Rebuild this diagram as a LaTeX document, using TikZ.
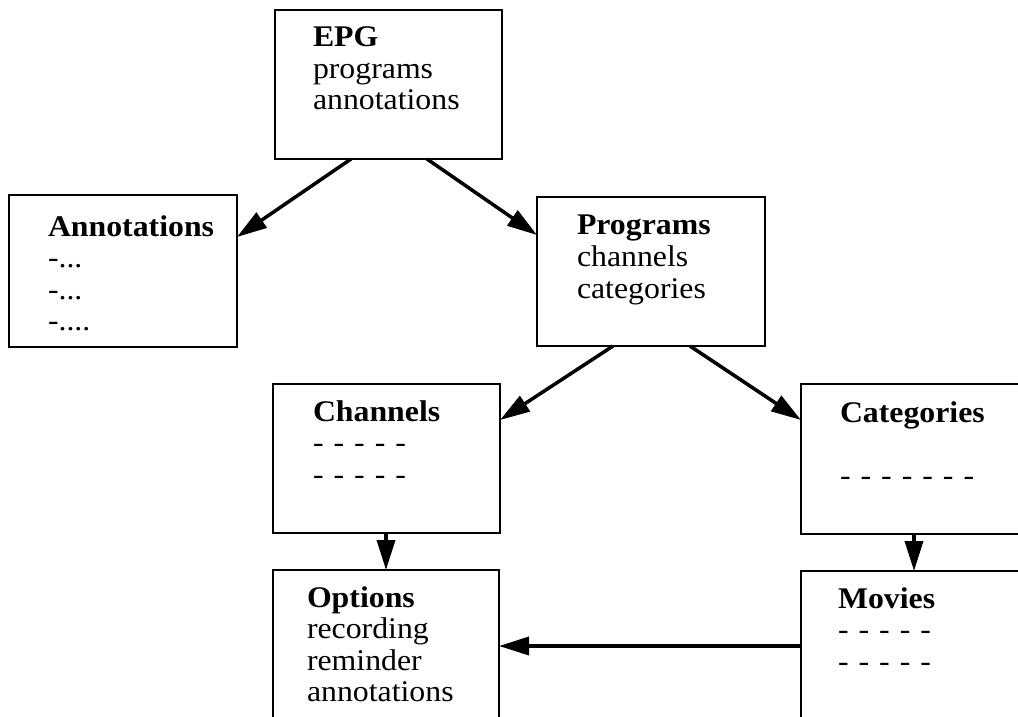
\documentclass[tikz,border=0pt]{standalone}
\usepackage{fontspec}
\setmainfont{Liberation Serif}[FakeStretch=1.06]
\usetikzlibrary{arrows.meta,calc}
\begin{document}
\begin{tikzpicture}[x=1pt,y=-1pt,
  box/.style={draw, line width=2.7pt, inner sep=0pt, outer sep=0pt, anchor=north west},
  txt/.style={anchor=base west, inner sep=0pt, outer sep=0pt, text width=240pt, align=left,
              font=\fontsize{30}{31.5}\selectfont},
  arr/.style={line width=3.5pt, -{Triangle[length=30pt,width=18pt]}}]
\fill[white] (0,0) rectangle (1018,717);
\useasboundingbox (0,0) rectangle (1018,717);
\clip (0,0) rectangle (1018,717);

% boxes
\node[box, minimum width=227pt, minimum height=149pt] (epg)  at (275,10)  {};
\node[box, minimum width=228pt, minimum height=152pt] (anno) at (9,195)   {};
\node[box, minimum width=228pt, minimum height=149pt] (prog) at (537,197) {};
\node[box, minimum width=227pt, minimum height=149pt] (chan) at (273,384) {};
\node[box, minimum width=240pt, minimum height=150pt] (cat)  at (801,384) {};
\node[box, minimum width=226pt, minimum height=180pt] (opt)  at (273,570) {};
\node[box, minimum width=240pt, minimum height=180pt] (mov)  at (801,571) {};

% texts
\node[txt] (epgt)  at (313,47)  {\textbf{EPG}\\programs\\annotations};
\node[txt] (annot) at (48,236)  {\textbf{Annotations}\\-...\\-...\\-....};
\node[txt] (progt) at (577,234) {\textbf{Programs}\\[0.5pt]channels\\[0.5pt]categories};
\node[txt] (chant) at (313,421) {\textbf{Channels}\\- - - - -\\- - - - -};
\node[txt] (catt)  at (840,422) {\textbf{Categories}\\[31.5pt]- - - - - - -};
\node[txt] (optt)  at (307,607) {\textbf{Options}\\recording\\reminder\\annotations};
\node[txt] (movt)  at (838,608) {\textbf{Movies}\\- - - - -\\- - - - -};

% connectors
\draw[arr] ($(epg.south west)+(76,0)$)   -- ($(anno.north east)+(0,42)$);
\draw[arr] ($(epg.south west)+(152,0)$)  -- ($(prog.north west)+(0,38)$);
\draw[arr] ($(prog.south west)+(76,0)$)  -- ($(chan.north east)+(0,36)$);
\draw[arr] ($(prog.south west)+(153,0)$) -- ($(cat.north west)+(0,36)$);
\draw[arr] ($(chan.south west)+(113,0)$) -- ($(opt.north west)+(113,0)$);
\draw[arr] ($(cat.south west)+(113,0)$)  -- ($(mov.north west)+(113,0)$);
\draw[arr] ($(mov.north west)+(0,75)$)   -- ($(opt.north east)+(0,76)$);
\end{tikzpicture}
\end{document}
